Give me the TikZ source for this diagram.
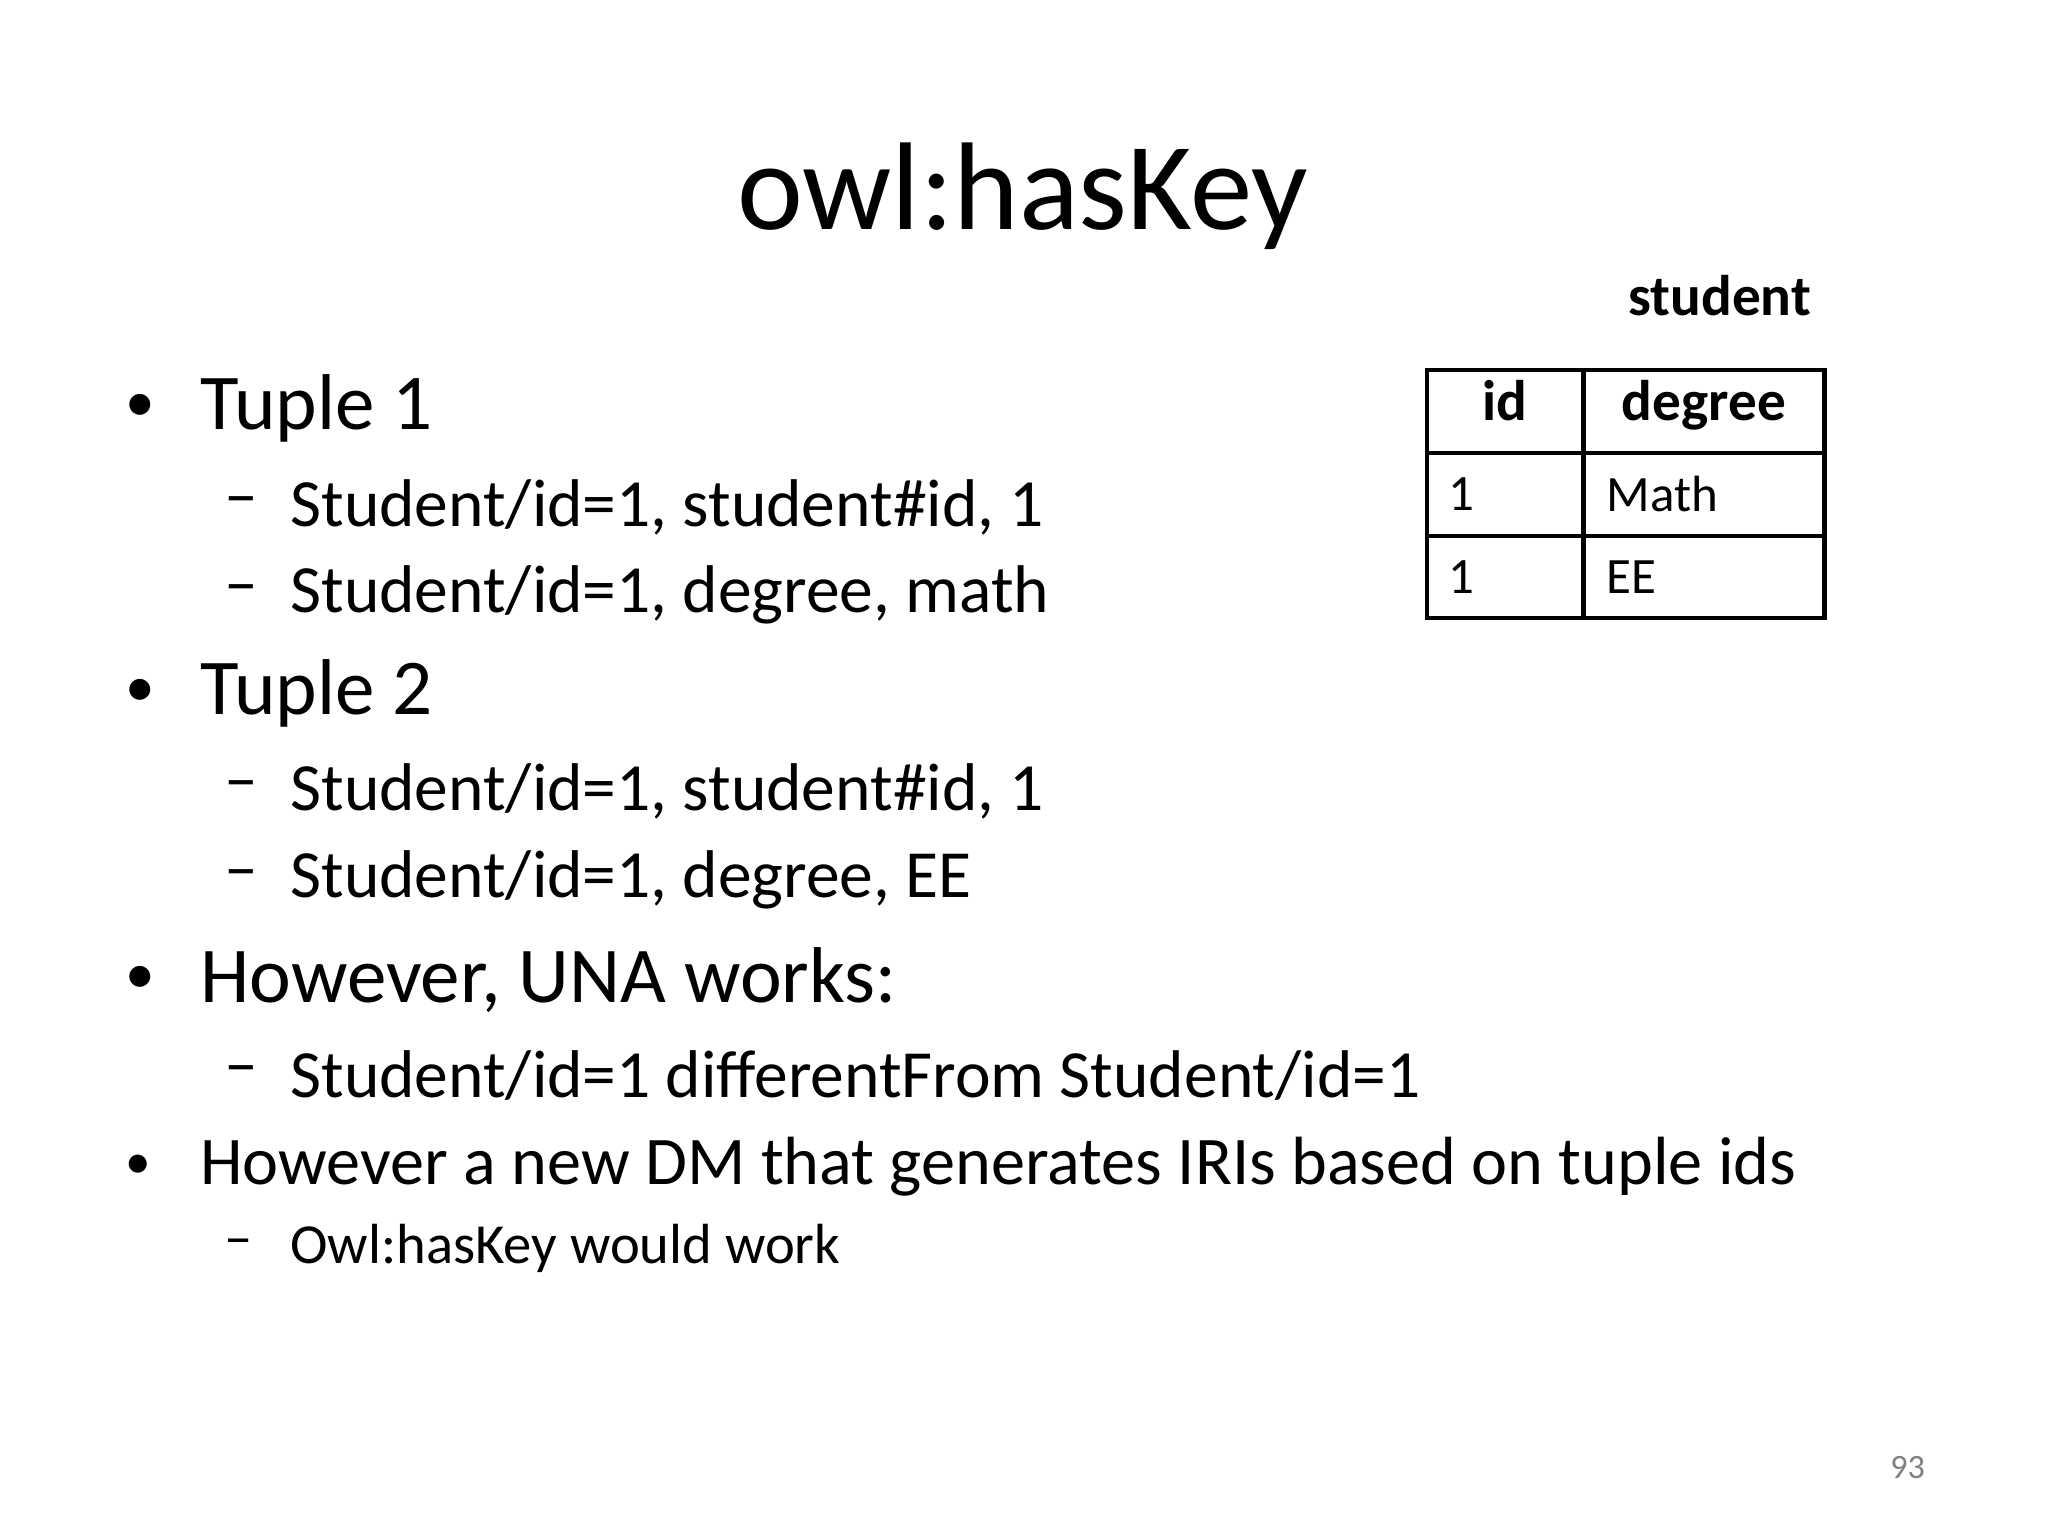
\documentclass[tikz,border=0pt]{standalone}
\usepackage{fontspec}
\setmainfont{Carlito}
\newcommand{\mydash}{\raisebox{-0.25ex}{–}}
\newcommand{\mybul}{\scalebox{0.75}{•}}
\begin{document}
\begin{tikzpicture}[x=0.00989cm,y=-0.00989cm,
  lA/.style={anchor=west,font=\fontsize{22.5}{27}\selectfont,inner sep=0},
  lB/.style={anchor=west,font=\fontsize{19.2}{23}\selectfont,inner sep=0},
  lC/.style={anchor=west,font=\fontsize{19.4}{23}\selectfont,inner sep=0},
  lD/.style={anchor=west,font=\fontsize{16.1}{19}\selectfont,inner sep=0},
  cell/.style={anchor=west,font=\fontsize{14.5}{17}\selectfont,inner sep=0},
  hcell/.style={font=\fontsize{16.3}{19}\selectfont\bfseries,inner sep=0,text height=1.6ex,text depth=0.5ex}]
\useasboundingbox (0,0) rectangle (2071,1553);
\node[font=\fontsize{35.5}{42}\selectfont] (title) at (1034,198) {owl:hasKey};
% bullets
\node[lA] (b1d) at (126,413) {\mybul}; \node[lA] (b1) at (202,413) {Tuple 1};
\node[lB] (s1d) at (226,513) {\mydash}; \node[lB] (s1) at (293,513) {Student/id=1, student\#id, 1};
\node[lB] (s2d) at (226,602) {\mydash}; \node[lB] (s2) at (293,602) {Student/id=1, degree, math};
\node[lA] (b2d) at (126,701) {\mybul}; \node[lA] (b2) at (202,701) {Tuple 2};
\node[lB] (s3d) at (226,800) {\mydash}; \node[lB] (s3) at (293,800) {Student/id=1, student\#id, 1};
\node[lB] (s4d) at (226,890) {\mydash}; \node[lB] (s4) at (293,890) {Student/id=1, degree, EE};
\node[lA] (b3d) at (126,991) {\mybul}; \node[lA] (b3) at (202,991) {However, UNA works:};
\node[lB] (s5d) at (226,1088) {\mydash}; \node[lB] (s5) at (293,1088) {Student/id=1 differentFrom Student/id=1};
\node[lC] (b4d) at (126,1180) {\mybul}; \node[lC] (b4) at (202,1180) {However a new DM that generates IRIs based on tuple ids};
\node[lD] (s6d) at (226,1262) {\mydash}; \node[lD] (s6) at (293,1262) {Owl:hasKey would work};
% table
\node[hcell,anchor=east] (tname) at (1832,310) {student};
\draw[line width=1.3pt] (1443,374) rectangle (1845,625);
\draw[line width=1.3pt] (1601,374) -- (1601,625) (1443,458) -- (1845,458) (1443,542) -- (1845,542);
\node[hcell] (hid) at (1522,416) {id};
\node[hcell] (hdeg) at (1723,416) {degree};
\node[cell] (c11) at (1464,500) {1}; \node[cell] (c12) at (1624,500) {Math};
\node[cell] (c21) at (1464,584) {1}; \node[cell] (c22) at (1624,584) {EE};
\node[font=\fontsize{9.7}{12}\selectfont,text=gray] (pg) at (1929,1484) {93};
\end{tikzpicture}
\end{document}
